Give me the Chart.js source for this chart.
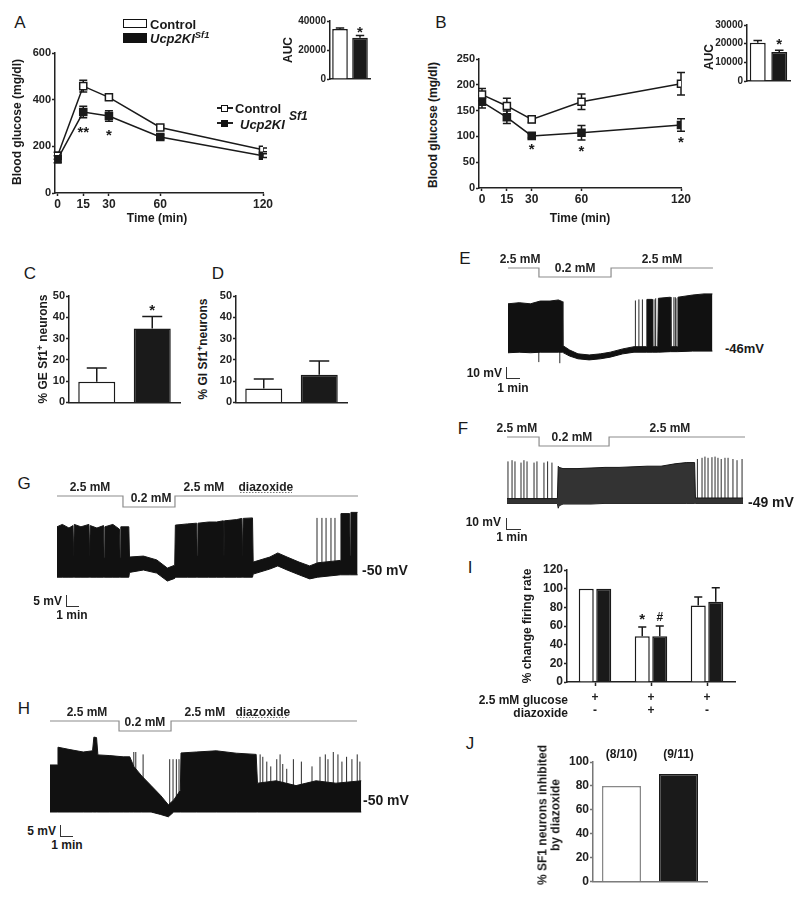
<!DOCTYPE html>
<html><head><meta charset="utf-8">
<script src="https://cdn.jsdelivr.net/npm/chart.js@4.4.1/dist/chart.umd.min.js"></script>
<style>
html,body{margin:0;padding:0;background:#fff}
body{position:relative;width:800px;height:899px;overflow:hidden;font-family:"Liberation Sans",Arial,Helvetica,sans-serif;color:#1a1a1a}
.t{position:absolute;white-space:nowrap;line-height:1}
.t sup{font-size:0.72em;vertical-align:0.45em;line-height:0}
.bx{position:absolute;box-sizing:border-box}
</style></head><body>
<script>
// ================= DATA =================
// A: glucose tolerance test
const gttTime = [0, 15, 30, 60, 120];
const gttControl = [160, 458, 410, 281, 185];
const gttControlSem = [15, 25, 12, 8, 8];
const gttUcp = [145, 347, 330, 240, 160];
const gttUcpSem = [15, 25, 22, 10, 8];
const gttUcpStars = ['', '**', '*', '', ''];
const gttAuc = [34500, 28500];
const gttAucSem = [600, 1500];
const gttAucStars = ['', '*'];
// B: insulin tolerance test
const ittTime = [0, 15, 30, 60, 120];
const ittControl = [181, 159, 133, 167, 202];
const ittControlSem = [12, 15, 6, 15, 22];
const ittUcp = [167, 137, 101, 107, 122];
const ittUcpSem = [12, 12, 4, 14, 12];
const ittUcpStars = ['', '', '*', '*', '*'];
const ittAuc = [20500, 15500];
const ittAucSem = [1200, 1000];
const ittAucStars = ['', '*'];
// C, D
const genotypes = ['Control', 'Ucp2KI Sf1'];
const gePercent = [9.7, 34.7];
const geSem = [6.5, 5.7];
const geStars = ['', '*'];
const giPercent = [6.5, 13];
const giSem = [4.5, 6.5];
// I
const firingConditions = ['glucose', 'glucose + diazoxide', 'washout'];
const glucoseRow = ['+', '+', '+'];
const diazoxideRow = ['-', '+', '-'];
const firingControl = [100, 49, 82];
const firingControlSem = [0, 10, 9];
const firingControlMarks = ['', '*', ''];
const firingUcp = [100, 49, 86];
const firingUcpSem = [0, 11, 15];
const firingUcpMarks = ['', '#', ''];
// J
const inhibitedPercent = [80, 90];
const inhibitedCounts = ['(8/10)', '(9/11)'];

// E trace (time in min, membrane potential in mV)
const traceE_t   = [0, 0.8, 1.6, 2.3, 3.0, 3.6, 3.88, 3.92, 4.4, 5.0, 5.8, 6.6, 7.3, 8.2, 9.0, 9.88, 9.92, 10.3, 10.34, 10.7, 10.74, 11.6, 11.64, 12.1, 12.14, 13.2, 14.0, 14.6];
const traceE_top = [-4, -3, -4, -1.5, -1.5, -0.5, -2, -42, -46, -49.5, -50.5, -49.5, -48, -45, -43, -43, 0, 0, -43, -43, 1, 2, -43, -43, 2, 4, 5, 5];
const traceE_bot = [-48.5, -48, -48.5, -48, -48, -48, -48, -48, -51.5, -54, -55, -54, -52.5, -49.5, -48, -48, -48, -48, -48, -48, -48, -47.5, -47.5, -47.5, -47.5, -47, -47, -47];
const spikesE_t  = [2.2, 3.7, 9.1, 9.35, 9.6, 10.5, 10.55, 11.85, 11.95, 12.0];
const spikesE_lo = [-57, -58, -47, -47, -47, -47, -47, -47, -47, -47];
const spikesE_hi = [-46, -46, -1, 0, 0, 0, 1, 2, 2, 1];
const glucoseE_t = [0, 2.21, 7.36, 14.64];
const glucoseE_mM = [2.5, 0.2, 2.5, 2.5];
const labelsE = ['2.5 mM', '0.2 mM', '2.5 mM'];
const labelsE_t = [0.86, 4.79, 11.0];
const labelsE_mM = [2.5, 0.2, 2.5];

// F trace
const traceF_t   = [0, 3.6, 3.66, 3.72, 4.0, 5.0, 6.0, 7.0, 8.0, 9.0, 10.0, 11.0, 12.0, 12.8, 13.4, 13.46, 14.5, 16.86];
const traceF_top = [-47, -47, -20, -21, -22, -22, -21.5, -21, -21, -20.5, -20, -20, -18, -17, -17, -46.5, -46.5, -46.5];
const traceF_bot = [-51, -51, -55, -53, -51.5, -51.5, -51.5, -51, -51, -51, -51, -51, -51, -51, -51, -51, -51, -51];
const spikesF_t  = [0.07, 0.36, 0.57, 1.0, 1.21, 1.43, 1.93, 2.14, 2.64, 2.9, 3.21, 13.6, 13.93, 14.14, 14.36, 14.64, 14.86, 15.07, 15.3, 15.57, 15.79, 16.14, 16.43, 16.79];
const spikesF_lo = [-49, -49, -49, -49, -49, -49, -49, -49, -49, -49, -49, -49, -49, -49, -49, -49, -49, -49, -49, -49, -49, -49, -49, -49];
const spikesF_hi = [-16, -15, -16, -17, -15, -16, -17, -16, -17, -16, -17, -14, -13, -12, -13, -12.5, -12, -13, -14, -13, -13, -14, -15, -14];
const glucoseF_t = [0, 2.29, 7.29, 17.0];
const glucoseF_mM = [2.5, 0.2, 2.5, 2.5];
const labelsF = ['2.5 mM', '0.2 mM', '2.5 mM'];
const labelsF_t = [0.7, 4.64, 11.64];
const labelsF_mM = [2.5, 0.2, 2.5];

// G trace
const traceG_t   = [0, 0.4, 0.9, 1.2, 1.25, 1.3, 1.8, 2.4, 2.45, 2.5, 3.0, 3.5, 3.55, 3.6, 4.2, 4.7, 4.75, 4.8, 5.4, 5.45, 6.5, 7.5, 8.3, 8.85, 8.9, 9.8, 10.5, 10.55, 10.6, 11.4, 12.0, 12.5, 12.55, 12.6, 13.5, 13.9, 13.95, 14.0, 14.7, 14.75, 16.0, 16.6, 17.3, 18.2, 19.0, 19.6, 21.3, 21.35, 22.0, 22.05, 22.1, 22.6];
const traceG_top = [-32, -31, -32.5, -31.5, -44, -31, -32, -31, -44, -31.5, -32.5, -31.5, -45, -32, -31, -33, -45, -32, -32, -44.6, -44.2, -45.8, -49.2, -48, -31.3, -30.8, -30.5, -44, -30.5, -30, -30, -29.5, -44, -29.5, -29, -28.5, -44, -28.5, -28.3, -46.7, -44.6, -42.9, -44.6, -46.7, -48.3, -47, -46, -26.5, -26.5, -44, -26, -26];
const traceG_bot = [-53, -53, -53, -53, -53, -53, -53, -53, -53, -53, -53, -53, -53, -53, -53, -53, -53, -53, -53, -51, -50, -51.3, -54.6, -53.5, -53, -53, -53, -53, -53, -53, -53, -53, -53, -53, -53, -53, -53, -53, -53, -51.7, -49.6, -48.3, -50, -52, -53.7, -53, -52, -52, -52, -52, -52, -52];
const spikesG_t  = [19.55, 19.92, 20.23, 20.6, 20.9];
const spikesG_lo = [-52, -52, -52, -52, -52];
const spikesG_hi = [-28.3, -28.3, -28.3, -28.3, -28.3];
const glucoseG_t = [0, 4.96, 8.87, 22.63];
const glucoseG_mM = [2.5, 0.2, 2.5, 2.5];
const labelsG = ['2.5 mM', '0.2 mM', '2.5 mM', 'diazoxide'];
const labelsG_t = [2.48, 7.07, 11.05, 15.7];
const labelsG_mM = [2.5, 0.2, 2.5, 2.5];
const diazoxideG = [13.76, 17.67];

// H trace
const traceH_t   = [0, 0.55, 0.6, 1.5, 2.5, 3.2, 3.3, 3.5, 3.6, 4.5, 5.5, 6.0, 6.3, 6.9, 7.6, 8.3, 8.9, 9.3, 9.8, 9.85, 11.0, 12.5, 14.0, 15.5, 15.6, 17.0, 18.5, 20.0, 21.5, 23.4];
const traceH_top = [-35.4, -35.4, -28, -29, -30, -29.5, -23.8, -24, -31.2, -31.5, -32, -32, -36, -40, -44, -48, -52, -50, -46, -30.4, -30, -29.5, -30.5, -31, -43, -42, -44, -42, -43, -42];
const traceH_bot = [-55, -55, -55, -55, -55, -55, -55, -55, -55, -55, -55, -55, -55, -55, -55, -56, -57, -55, -55, -55, -55, -55, -55, -55, -55, -55, -55, -55, -55, -55];
const spikesH_t  = [6.3, 6.45, 7.0, 9.0, 9.25, 9.5, 9.7, 15.8, 16.0, 16.3, 16.6, 17.05, 17.3, 17.5, 17.8, 18.3, 18.9, 19.7, 20.3, 20.7, 20.9, 21.3, 21.65, 21.95, 22.3, 22.7, 23.1, 23.3];
const spikesH_lo = [-50, -50, -50, -52, -52, -52, -52, -48, -48, -48, -48, -48, -48, -48, -48, -48, -48, -48, -48, -48, -48, -48, -48, -48, -48, -48, -48, -48];
const spikesH_hi = [-30, -30, -31, -33, -33, -33, -33, -31, -32, -34, -36, -33, -31, -35, -37, -33, -34, -36, -32, -31, -33, -30, -31, -34, -32, -33, -31, -34];
const glucoseH_t = [0, 5.19, 9.1, 23.08];
const glucoseH_mM = [2.5, 0.2, 2.5, 2.5];
const labelsH = ['2.5 mM', '0.2 mM', '2.5 mM', 'diazoxide'];
const labelsH_t = [2.78, 7.14, 11.65, 16.0];
const labelsH_mM = [2.5, 0.2, 2.5, 2.5];
const diazoxideH = [14.06, 17.9];

// ================= SETUP =================
Chart.defaults.animation = false;
Chart.defaults.responsive = false;
Chart.defaults.devicePixelRatio = 1;
Chart.defaults.font.family = '"Liberation Sans", Arial, Helvetica, sans-serif';
Chart.defaults.font.weight = 'bold';
Chart.defaults.font.size = 11;
Chart.defaults.color = '#222';
Chart.defaults.plugins.legend.display = false;
Chart.defaults.plugins.tooltip.enabled = false;
const INK = '#1a1a1a';
const FONT = '"Liberation Sans", Arial, Helvetica, sans-serif';

function canvas(r) {
  const c = document.createElement('canvas');
  c.width = r[2]; c.height = r[3];
  c.style.cssText = `position:absolute;left:${r[0]}px;top:${r[1]}px;width:${r[2]}px;height:${r[3]}px`;
  document.body.appendChild(c);
  return c;
}
function frame(cr, pr) {
  return {
    layout: {autoPadding: false, padding: {left: 0, top: pr[1] - cr[1], right: cr[0] + cr[2] - pr[2], bottom: 0}},
    yW: pr[0] - cr[0], xH: cr[1] + cr[3] - pr[3]
  };
}
function T(html, x, y, o = {}) {
  const d = document.createElement('div');
  d.className = 't';
  d.innerHTML = html;
  const s = d.style;
  s.left = x + 'px'; s.top = y + 'px';
  s.fontSize = (o.s || 12) + 'px';
  s.fontWeight = o.w || 'bold';
  if (o.i) s.fontStyle = 'italic';
  if (o.lh) { s.lineHeight = o.lh; s.textAlign = 'center'; }
  const tx = o.a === 'l' ? '0' : o.a === 'r' ? '-100%' : '-50%';
  s.transform = `translate(${tx},-50%)` + (o.r ? ' rotate(-90deg)' : '');
  document.body.appendChild(d);
  return d;
}
function B(x, y, w, h, css) {
  const d = document.createElement('div');
  d.className = 'bx';
  d.style.cssText += `left:${x}px;top:${y}px;width:${w}px;height:${h}px;` + css;
  document.body.appendChild(d);
}
const pts = (xs, ys) => xs.map((x, i) => ({x, y: ys[i]}));

// error bars + significance marks
const errPlugin = {
  id: 'errbars',
  beforeDatasetsDraw(chart) { if (chart.config.type === 'line') drawErr(chart); },
  afterDatasetsDraw(chart) { if (chart.config.type === 'bar') drawErr(chart); drawMarks(chart); }
};
function valOf(v) { return (v !== null && typeof v === 'object') ? v.y : v; }
function drawErr(chart) {
  const ctx = chart.ctx, ys = chart.scales.y, line = chart.config.type === 'line';
  chart.data.datasets.forEach((ds, di) => {
    if (!ds.sem) return;
    chart.getDatasetMeta(di).data.forEach((el, i) => {
      const v = valOf(ds.data[i]), e = ds.sem[i];
      if (!e) return;
      const y1 = ys.getPixelForValue(v + e);
      const y0 = line ? ys.getPixelForValue(v - e) : el.y;
      const cap = line ? 4 : Math.max(3.5, el.width * 0.27);
      ctx.save();
      ctx.strokeStyle = ds.errColor || INK; ctx.lineWidth = 1.5;
      ctx.beginPath();
      ctx.moveTo(el.x, y0); ctx.lineTo(el.x, y1);
      ctx.moveTo(el.x - cap, y1); ctx.lineTo(el.x + cap, y1);
      if (line) { ctx.moveTo(el.x - cap, y0); ctx.lineTo(el.x + cap, y0); }
      ctx.stroke();
      ctx.restore();
    });
  });
}
function drawMarks(chart) {
  const ctx = chart.ctx, ys = chart.scales.y;
  chart.data.datasets.forEach((ds, di) => {
    const meta = chart.getDatasetMeta(di);
    if (ds.marks) {
      meta.data.forEach((el, i) => {
        const m = ds.marks[i]; if (!m) return;
        const v = valOf(ds.data[i]), e = (ds.sem && ds.sem[i]) || 0;
        const y = ds.markSide === 'below' ? ys.getPixelForValue(v - e) + ds.markGap : ys.getPixelForValue(v + e) - ds.markGap;
        ctx.save();
        ctx.fillStyle = INK; ctx.textAlign = 'center'; ctx.textBaseline = 'middle';
        ctx.font = `bold ${m === '#' ? 12 : 15}px ${FONT}`;
        ctx.fillText(m, el.x, y);
        ctx.restore();
      });
    }
    if (ds.topLabels) {
      meta.data.forEach((el, i) => {
        ctx.save();
        ctx.fillStyle = INK; ctx.textAlign = 'center'; ctx.textBaseline = 'middle';
        ctx.font = `bold 12px ${FONT}`;
        ctx.fillText(ds.topLabels[i], el.x, ys.getPixelForValue(ys.max) - 7);
        ctx.restore();
      });
    }
  });
}

function yAxis(f, max, step, extra = {}) {
  return Object.assign({
    min: 0, max,
    afterFit(s) { s.width = f.yW; },
    ticks: {stepSize: step, padding: 1, font: {size: extra.fs || 11}, color: extra.tc || '#222', callback: v => String(v)},
    grid: {display: true, drawOnChartArea: false, drawTicks: true, tickLength: 3, tickColor: extra.ac || '#222', tickWidth: 1.5},
    border: {display: true, color: extra.ac || '#222', width: 1.5}
  }, extra.more || {});
}

// ================= LINE CHARTS A, B =================
function glucoseChart(cr, pr, xmin, time, ctl, ctlSem, ucp, ucpSem, stars, gap, ymax, step) {
  const f = frame(cr, pr);
  const mk = (data, sem, fillc, extra) => Object.assign({
    data, sem, borderColor: INK, borderWidth: 1.5, pointStyle: 'rect', pointRadius: 5,
    pointBorderWidth: 1.5, pointBackgroundColor: fillc, pointBorderColor: INK, fill: false
  }, extra);
  new Chart(canvas(cr), {
    type: 'line',
    data: {datasets: [
      mk(pts(time, ucp), ucpSem, INK, {marks: stars, markSide: 'below', markGap: gap}),
      mk(pts(time, ctl), ctlSem, '#fff', {})
    ]},
    options: {
      layout: f.layout,
      scales: {
        x: {type: 'linear', min: xmin, max: 120,
            afterBuildTicks(s) { s.ticks = time.map(v => ({value: v})); },
            afterFit(s) { s.height = f.xH; },
            ticks: {padding: 1, font: {size: 12}, callback: v => String(v)},
            grid: {display: true, drawOnChartArea: false, tickLength: 3, tickColor: '#222', tickWidth: 1.5},
            border: {display: true, color: '#222', width: 1.5}},
        y: yAxis(f, ymax, step)
      }
    },
    plugins: [errPlugin]
  });
}
glucoseChart([22, 40, 268, 176], [55, 53, 263, 193], -1.5, gttTime, gttControl, gttControlSem, gttUcp, gttUcpSem, gttUcpStars, 15, 600, 200);
glucoseChart([445, 45, 250, 171], [479, 59, 681, 188], -1.8, ittTime, ittControl, ittControlSem, ittUcp, ittUcpSem, ittUcpStars, 12, 250, 50);

// ================= BAR CHARTS =================
function barChart(cr, pr, o) {
  const f = frame(cr, pr);
  const ac = o.ac || '#222';
  new Chart(canvas(cr), {
    type: 'bar',
    data: {labels: o.labels, datasets: o.datasets.map(d => Object.assign({
      borderColor: o.bc || INK, borderWidth: 1.5, borderSkipped: 'bottom',
      categoryPercentage: o.cat, barPercentage: o.bar
    }, d))},
    options: {
      layout: f.layout,
      scales: {
        x: {afterFit(s) { s.height = f.xH; },
            ticks: o.xticks || {display: false},
            grid: o.xgrid || {display: false},
            border: {display: true, color: ac, width: 1.5}},
        y: yAxis(f, o.max, o.step, {fs: o.fs, ac})
      }
    },
    plugins: [errPlugin]
  });
}
// A inset
barChart([290, 8, 90, 78], [330, 21, 370, 80], {labels: genotypes, max: 40000, step: 20000, cat: 1, bar: 0.78, fs: 10,
  datasets: [{data: gttAuc, sem: gttAucSem, marks: gttAucStars, markGap: 3, backgroundColor: ['#fff', INK]}]});
// B inset
barChart([705, 10, 93, 78], [747, 25, 790, 83], {labels: genotypes, max: 30000, step: 10000, cat: 1, bar: 0.74, fs: 10,
  datasets: [{data: ittAuc, sem: ittAucSem, marks: ittAucStars, markGap: 5, backgroundColor: ['#fff', INK]}]});
// C
barChart([45, 284, 145, 126], [69, 296, 180, 404], {labels: genotypes, max: 50, step: 10, cat: 1, bar: 0.667,
  datasets: [{data: gePercent, sem: geSem, marks: geStars, markGap: 6, backgroundColor: ['#fff', INK]}]});
// D
barChart([212, 284, 145, 126], [236, 296, 347, 404], {labels: genotypes, max: 50, step: 10, cat: 1, bar: 0.667,
  datasets: [{data: giPercent, sem: giSem, backgroundColor: ['#fff', INK]}]});
// I
barChart([530, 558, 215, 165], [567, 570, 735, 682], {labels: firingConditions, max: 120, step: 20, cat: 0.625, bar: 0.857, fs: 12,
  xticks: {display: true, padding: 5, font: {size: 12, lineHeight: 1.1}, color: '#222', callback: (v, i) => [glucoseRow[i], diazoxideRow[i]]},
  xgrid: {display: true, drawOnChartArea: false, offset: false, tickLength: 4, tickColor: '#222', tickWidth: 1.5},
  datasets: [
    {data: firingControl, sem: firingControlSem, marks: firingControlMarks, markGap: 7, backgroundColor: '#fff'},
    {data: firingUcp, sem: firingUcpSem, marks: firingUcpMarks, markGap: 8, backgroundColor: INK}
  ]});
// J
barChart([560, 738, 160, 152], [593, 762, 707, 884], {labels: genotypes, max: 100, step: 20, cat: 1, bar: 0.684, fs: 12, ac: '#777', bc: '#777',
  datasets: [{data: inhibitedPercent, topLabels: inhibitedCounts, backgroundColor: ['#fff', INK], borderColor: ['#888', INK]}]});

// ================= TRACES E-H =================
function traceChart(c) {
  const [L, Tp, W, H] = c.rect;
  const xmin = -(c.x0 - L) / c.kx, xmax = (L + W - c.x0) / c.kx;
  const ymax = c.mv0 + (c.py0 - Tp) / c.ky, ymin = c.mv0 - (Tp + H - c.py0) / c.ky;
  const ks = (c.stimPx[1] - c.stimPx[0]) / (2.5 - 0.2);
  const smax = 2.5 + (c.stimPx[0] - Tp) / ks, smin = 2.5 - (Tp + H - c.stimPx[0]) / ks;
  const spikes = c.spT.flatMap((t, i) => [{x: t, y: c.spLo[i]}, {x: t, y: c.spHi[i]}, {x: t, y: null}]);
  const decor = {
    id: 'decor',
    afterDatasetsDraw(chart) {
      const ctx = chart.ctx, xs = chart.scales.x, ss = chart.scales.yS;
      ctx.save();
      ctx.font = `bold 12px ${FONT}`; ctx.fillStyle = '#222'; ctx.textAlign = 'center'; ctx.textBaseline = 'middle';
      c.labels.forEach((txt, i) => ctx.fillText(txt, xs.getPixelForValue(c.labelT[i]), ss.getPixelForValue(c.labelC[i]) - 8));
      if (c.drug) {
        const y = ss.getPixelForValue(2.5) - 3.5;
        ctx.strokeStyle = '#777'; ctx.lineWidth = 1; ctx.setLineDash([1.5, 1.5]);
        ctx.beginPath(); ctx.moveTo(xs.getPixelForValue(c.drug[0]), y); ctx.lineTo(xs.getPixelForValue(c.drug[1]), y); ctx.stroke();
      }
      ctx.restore();
    }
  };
  const fillc = c.fill || '#111';
  new Chart(canvas(c.rect), {
    type: 'line',
    data: {datasets: [
      {data: pts(c.t, c.top), yAxisID: 'y', borderColor: '#161616', backgroundColor: fillc, borderWidth: 1, pointRadius: 0, fill: '+1'},
      {data: pts(c.t, c.bot), yAxisID: 'y', borderColor: '#111', borderWidth: 1, pointRadius: 0, fill: false},
      {data: spikes, yAxisID: 'y', borderColor: '#2a2a2a', borderWidth: 1, pointRadius: 0, fill: false, spanGaps: false},
      {data: pts(c.gT, c.gC), yAxisID: 'yS', borderColor: '#8c8c8c', borderWidth: 1.2, pointRadius: 0, stepped: true, fill: false}
    ]},
    options: {
      layout: {autoPadding: false, padding: 0},
      scales: {
        x: {type: 'linear', display: false, min: xmin, max: xmax},
        y: {type: 'linear', display: false, min: ymin, max: ymax},
        yS: {type: 'linear', display: false, min: smin, max: smax}
      }
    },
    plugins: [decor]
  });
}
traceChart({rect: [486, 248, 236, 126], x0: 508, kx: 14, mv0: -46, py0: 350, ky: 1.1, stimPx: [268, 277],
  t: traceE_t, top: traceE_top, bot: traceE_bot, spT: spikesE_t, spLo: spikesE_lo, spHi: spikesE_hi,
  gT: glucoseE_t, gC: glucoseE_mM, labels: labelsE, labelT: labelsE_t, labelC: labelsE_mM});
traceChart({rect: [486, 418, 264, 96], x0: 507, kx: 14, mv0: -49, py0: 501, ky: 1.2, stimPx: [437, 446], fill: '#333',
  t: traceF_t, top: traceF_top, bot: traceF_bot, spT: spikesF_t, spLo: spikesF_lo, spHi: spikesF_hi,
  gT: glucoseF_t, gC: glucoseF_mM, labels: labelsF, labelT: labelsF_t, labelC: labelsF_mM});
traceChart({rect: [50, 476, 315, 112], x0: 57, kx: 13.3, mv0: -50, py0: 570, ky: 2.4, stimPx: [496, 507],
  t: traceG_t, top: traceG_top, bot: traceG_bot, spT: spikesG_t, spLo: spikesG_lo, spHi: spikesG_hi,
  gT: glucoseG_t, gC: glucoseG_mM, labels: labelsG, labelT: labelsG_t, labelC: labelsG_mM, drug: diazoxideG});
traceChart({rect: [44, 700, 325, 122], x0: 50, kx: 13.3, mv0: -50, py0: 800, ky: 2.4, stimPx: [721, 731],
  t: traceH_t, top: traceH_top, bot: traceH_bot, spT: spikesH_t, spLo: spikesH_lo, spHi: spikesH_hi,
  gT: glucoseH_t, gC: glucoseH_mM, labels: labelsH, labelT: labelsH_t, labelC: labelsH_mM, drug: diazoxideH});

// ================= TEXT & LEGENDS =================
const L16 = {s: 17, w: 'normal'};
T('A', 20, 22, L16); T('B', 441, 22, L16); T('C', 30, 273, L16); T('D', 218, 273, L16);
T('E', 465, 258, L16); T('F', 463, 428, L16); T('G', 24, 483, L16); T('H', 24, 708, L16);
T('I', 470, 567, L16); T('J', 470, 743, L16);

// A legend (top)
B(123, 19, 24, 9, 'border:1.5px solid #111;background:#fff');
B(123, 33, 24, 10, 'background:#111');
T('Control', 150, 24, {a: 'l', s: 13});
T('<i>Ucp2KI<sup>Sf1</sup></i>', 150, 38, {a: 'l', s: 13});
// A legend (in plot)
B(217, 107, 16, 1.5, 'background:#222');
B(221, 104.5, 7, 7, 'border:1.5px solid #111;background:#fff');
T('Control', 235, 108, {a: 'l', s: 13});
B(217, 122, 16, 1.5, 'background:#222');
B(221, 119.5, 7, 7, 'background:#111');
T('<i>Ucp2KI</i>', 240, 124, {a: 'l', s: 13});
T('<i>Sf1</i>', 289, 116, {a: 'l', s: 12});

T('Blood glucose (mg/dl)', 17, 122, {r: 1});
T('Time (min)', 157, 218);
T('AUC', 288, 50, {r: 1});
T('Blood glucose (mg/dl)', 433, 125, {r: 1});
T('Time (min)', 580, 218);
T('AUC', 709, 57, {r: 1});

T('% GE Sf1<sup>+</sup> neurons', 43, 349, {r: 1});
T('% GI Sf1<sup>+</sup>neurons', 203, 349, {r: 1});

T('-46mV', 725, 348, {a: 'l', s: 13});
T('-49 mV', 748, 502, {a: 'l', s: 14});
T('-50 mV', 362, 570, {a: 'l', s: 14});
T('-50 mV', 363, 800, {a: 'l', s: 14});

// scale bars
B(506, 367, 14, 12, 'border-left:1.3px solid #333;border-bottom:1.3px solid #333');
T('10 mV', 502, 373, {a: 'r'}); T('1 min', 513, 388);
B(506, 518, 15, 12, 'border-left:1.3px solid #333;border-bottom:1.3px solid #333');
T('10 mV', 501, 522, {a: 'r'}); T('1 min', 512, 537);
B(66, 595, 13, 12, 'border-left:1.3px solid #333;border-bottom:1.3px solid #333');
T('5 mV', 62, 601, {a: 'r'}); T('1 min', 72, 615);
B(60, 825, 13, 12, 'border-left:1.3px solid #333;border-bottom:1.3px solid #333');
T('5 mV', 56, 831, {a: 'r'}); T('1 min', 67, 845);

T('% change firing rate', 527, 626, {r: 1});
T('2.5 mM glucose', 568, 700, {a: 'r'});
T('diazoxide', 568, 713, {a: 'r'});
T('% SF1 neurons inhibited<br>by diazoxide', 549, 815, {r: 1, lh: 1.05});
</script>
</body></html>
